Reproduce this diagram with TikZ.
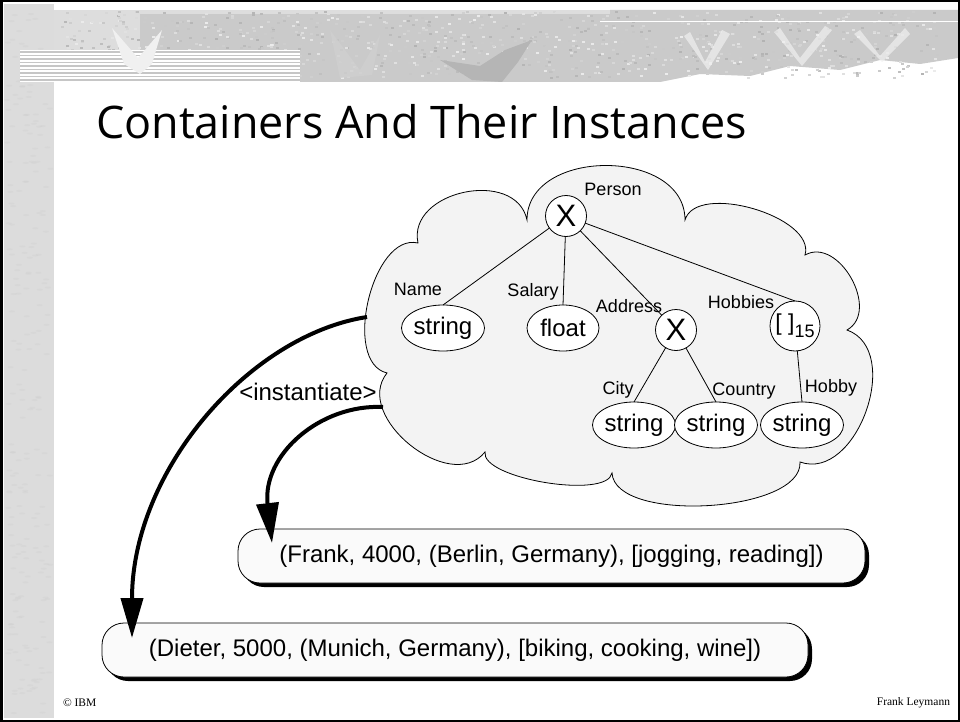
\documentclass[tikz,border=0pt]{standalone}
\usepackage{fontspec}
\usepackage{graphicx}
\setmainfont{Liberation Sans}
\newfontfamily\titlefont{Open Sans}
\newfontfamily\footfont{Liberation Serif}
\usetikzlibrary{calc,shapes.geometric,arrows.meta,shadows}
\definecolor{cloudfill}{HTML}{F3F3F3}
\definecolor{boxfill}{HTML}{FAFAFA}
\definecolor{stripgray}{HTML}{DCDCDC}
\definecolor{bannergray}{HTML}{CACACA}
\definecolor{bannerlight}{HTML}{DDDDDD}
\begin{document}
\begin{tikzpicture}[x=1pt,y=-1pt,
  every node/.style={inner sep=0pt, outer sep=0pt},
  typenode/.style={draw, ellipse, fill=white, line width=0.8pt, minimum width=72pt, minimum height=46pt, font=\fontsize{24}{24}\selectfont},
  ctor/.style={draw, circle, fill=white, line width=0.8pt, minimum size=41pt, font=\fontsize{31}{31}\selectfont},
  lbl/.style={font=\fontsize{18}{18}\selectfont},
  edge/.style={line width=0.8pt},
  valbox/.style={draw, line width=0.8pt, fill=boxfill, rounded corners=22pt, minimum height=54pt, font=\fontsize{24}{24}\selectfont, drop shadow={shadow xshift=4pt, shadow yshift=-4pt, fill=black, opacity=1}},
  flow/.style={line width=4pt, -{Triangle[length=40pt,width=22pt]}},
  cloudshape/.style={draw, fill=cloudfill, line width=0.8pt}
]
\useasboundingbox (0,0) rectangle (960,722);
\fill[white] (0,0) rectangle (960,722);

% ---------- background decoration ----------
\fill[stripgray] (4,4) rectangle (54,718);
\pgfmathsetseed{7}
\foreach \i in {1,...,220}{
  \pgfmathsetmacro\xx{7+44*rnd}
  \pgfmathsetmacro\yy{8+706*rnd}
  \fill[gray!40, opacity=0.3] (\xx,\yy) ellipse (3pt and 1pt);
}
% banner base
\fill[bannerlight] (54,10) rectangle (610,82);
\fill[bannergray] (140,14) rectangle (610,82);
\fill[bannergray] (610,10) -- (958,10) -- (958,58) -- (920,64) -- (880,60) -- (840,70) -- (790,66) -- (750,76) -- (700,74) -- (660,82) -- (610,82) -- cycle;
% dither texture
\foreach \i in {1,...,900}{
  \pgfmathsetmacro\xx{56+880*rnd}
  \pgfmathsetmacro\yy{11+66*rnd}
  \pgfmathsetmacro\gg{15+45*rnd}
  \fill[gray!\gg] (\xx,\yy) rectangle ++(3,2);
}
\draw[white, line width=1pt] (600,22) -- (958,22);
% striped block at left
\fill[white] (20,50) rectangle (300,82);
\foreach \yy in {52,55.5,...,81}{
  \draw[gray!45, line width=1.3pt] (20,\yy) -- (300,\yy);
}
% leaves
\fill[white!88!gray] (112,28) -- (138,58) -- (162,30) -- (152,64) -- (140,74) -- (124,64) -- cycle;
\fill[gray!58] (440,60) -- (480,66) -- (505,50) -- (532,40) -- (518,62) -- (502,82) -- (472,80) -- cycle;
\fill[gray!38, opacity=0.8] (330,30) -- (360,70) -- (380,35) -- (372,75) -- (340,78) -- cycle;
\fill[gray!12, opacity=0.7] (690,32) -- (705,62) -- (722,30) -- (730,34) -- (708,70) -- (684,36) -- cycle;
\fill[gray!12, opacity=0.7] (780,28) -- (800,58) -- (825,26) -- (832,30) -- (802,66) -- (774,32) -- cycle;
\fill[gray!12, opacity=0.7] (860,30) -- (880,56) -- (905,28) -- (910,34) -- (882,62) -- (854,34) -- cycle;

\draw[line width=2.5pt] (1.25,1.25) rectangle (958.75,720.75);

% ---------- title ----------
\node[anchor=base west] (title) at (96,139) {\resizebox{651pt}{!}{\titlefont Containers And Their Instances}};

% ---------- cloud ----------
\coordinate (n1) at (418,243);
\coordinate (n2) at (527,220);
\coordinate (n3) at (685,220);
\coordinate (n4) at (805,255);
\coordinate (n5) at (847,330);
\coordinate (n6) at (800,462);
\coordinate (n7) at (612,473);
\coordinate (n8) at (485,452);
\coordinate (n9) at (387,373);
\path[cloudshape]
 (n1) .. controls ($(n1)!0.48!90:(n2)$) and ($(n2)!0.48!-90:(n1)$) .. (n2)
      .. controls ($(n2)!0.46!90:(n3)$) and ($(n3)!0.46!-90:(n2)$) .. (n3)
      .. controls ($(n3)!0.32!90:(n4)$) and ($(n4)!0.32!-90:(n3)$) .. (n4)
      .. controls ($(n4)!0.45!90:(n5)$) and ($(n5)!0.45!-90:(n4)$) .. (n5)
      .. controls ($(n5)!0.43!90:(n6)$) and ($(n6)!0.43!-90:(n5)$) .. (n6)
      .. controls ($(n6)!0.27!90:(n7)$) and ($(n7)!0.27!-90:(n6)$) .. (n7)
      .. controls ($(n7)!0.21!90:(n8)$) and ($(n8)!0.21!-90:(n7)$) .. (n8)
      .. controls ($(n8)!0.44!90:(n9)$) and ($(n9)!0.44!-90:(n8)$) .. (n9)
      .. controls ($(n9)!0.35!90:(n1)$) and ($(n1)!0.35!-90:(n9)$) .. (n1) -- cycle;

% ---------- type tree ----------
\node[ctor] (person) at (566,216) {X};
\node[typenode] (name) at (443,328) {string};
\node[typenode] (float) at (563,328) {float};
\node[ctor] (addr) at (676,330) {X};
\node[ctor, minimum size=50pt, font=\fontsize{23}{23}\selectfont] (hob) at (795,326) {[ ]\raisebox{-7pt}{\fontsize{18}{18}\selectfont 15}};
\node[typenode] (city) at (634,425) {string};
\node[typenode] (country) at (716,425) {string};
\node[typenode] (hobby) at (802,425) {string};

\draw[edge] (person) -- (name.north);
\draw[edge] (person) -- (float.north);
\draw[edge] (person) -- (addr);
\draw[edge] (person) -- (hob.north);
\draw[edge] (addr) -- (city.north);
\draw[edge] (addr) -- (country.north);
\draw[edge] (hob) -- (hobby.north);

\node[lbl] (lperson) at (613,189) {Person};
\node[lbl] (lname) at (418,289) {Name};
\node[lbl] (lsalary) at (533,292) {Salary};
\node[lbl] (laddr) at (629,306) {Address};
\node[lbl] (lhob) at (741,302) {Hobbies};
\node[lbl] (lcity) at (618,390) {City};
\node[lbl] (lcountry) at (744,391) {Country};
\node[lbl] (lhobby) at (831,388) {Hobby};

% ---------- instances ----------
\node[valbox, minimum width=627pt] (frank) at (551.5,556) {(Frank, 4000, (Berlin, Germany), [jogging, reading])};
\node[valbox, minimum width=706pt] (dieter) at (455,650) {(Dieter, 5000, (Munich, Germany), [biking, cooking, wine])};

\node[font=\fontsize{24}{24}\selectfont] (inst) at (308,392) {<instantiate>};

\coordinate (a1s) at (367,317);
\coordinate (a2s) at (383,407);
\coordinate (a1e) at ($(dieter.north west)+(30,15)$);
\coordinate (a2e) at ($(frank.north west)+(34,14)$);
\draw[flow] (a1s) .. controls (250,335) and (132,470) .. (a1e);
\draw[flow] (a2s) .. controls (320,404) and (262,455) .. (a2e);

% ---------- footer ----------
\node[anchor=west, font=\footfont\fontsize{11.5}{12}\selectfont] (ibm) at (63,703) {© IBM};
\node[anchor=east, font=\footfont\fontsize{11.5}{12}\selectfont] (author) at (950,703) {Frank Leymann};
\end{tikzpicture}
\end{document}
